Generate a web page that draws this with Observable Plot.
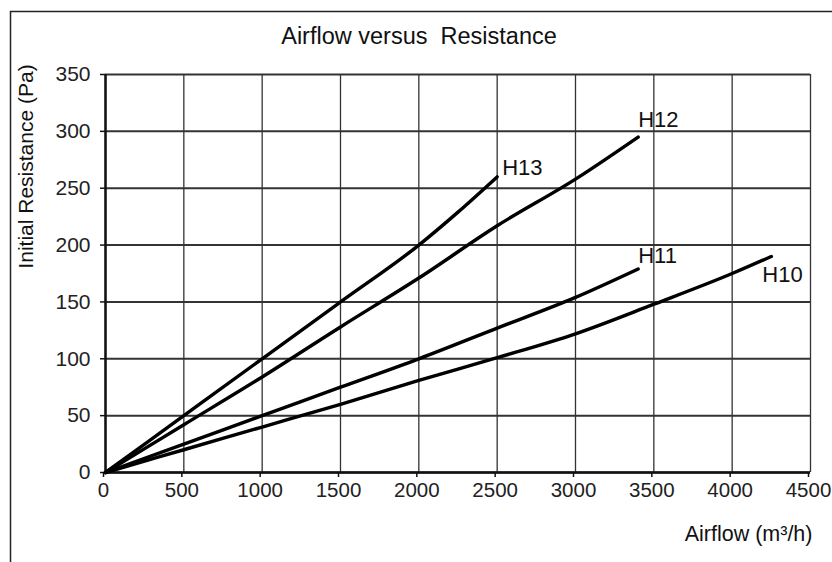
<!DOCTYPE html>
<html>
<head>
<meta charset="utf-8">
<script src="https://cdn.jsdelivr.net/npm/d3@7"></script>
<script src="https://cdn.jsdelivr.net/npm/@observablehq/plot@0.6"></script>
<style>
  html, body { margin: 0; padding: 0; background: #fff; }
  svg { display: block; }
</style>
</head>
<body>
<div id="chart"></div>
<script>
// Data
const xTicks = [0, 500, 1000, 1500, 2000, 2500, 3000, 3500, 4000, 4500];
const yTicks = [0, 50, 100, 150, 200, 250, 300, 350];

const h13Airflow = [0, 500, 1000, 1500, 2000, 2250, 2500];
const h13Resist  = [0, 50, 100, 150, 200, 229, 260];

const h12Airflow = [0, 500, 1000, 1500, 2000, 2500, 3000, 3400];
const h12Resist  = [0, 42, 84, 128, 171, 217, 258, 295];

const h11Airflow = [0, 500, 1000, 1500, 2000, 2500, 3000, 3400];
const h11Resist  = [0, 25, 50, 75, 100, 127, 154, 179];

const h10Airflow = [0, 500, 1000, 1500, 2000, 2500, 3000, 3500, 4000, 4250];
const h10Resist  = [0, 20, 40, 60, 81, 101, 122, 148, 175, 190];

const seriesNames = ["H13", "H12", "H11", "H10"];
const seriesX = [h13Airflow, h12Airflow, h11Airflow, h10Airflow];
const seriesY = [h13Resist, h12Resist, h11Resist, h10Resist];
// label offsets (pixels) relative to each series' end point
const labelDx = [5, 0, 0, -9];
const labelDy = [-9, -17, -13, 19];

const titleText = "Airflow versus  Resistance";
const xLabel = "Airflow (m³/h)";
const yLabel = "Initial Resistance (Pa)";

const rows = [];
seriesNames.forEach((s, i) => {
  seriesX[i].forEach((x, j) => rows.push({series: s, airflow: x, resistance: seriesY[i][j]}));
});
const ends = seriesNames.map((s, i) => ({
  series: s,
  airflow: seriesX[i][seriesX[i].length - 1],
  resistance: seriesY[i][seriesY[i].length - 1],
  dx: labelDx[i], dy: labelDy[i]
}));

const font = "'Liberation Sans', Arial, Helvetica, sans-serif";

const plot = Plot.plot({
  width: 832,
  height: 562,
  marginLeft: 105,
  marginRight: 22,
  marginTop: 74,
  marginBottom: 90,
  style: {fontFamily: font, fontSize: "21px", color: "#222", background: "#fff"},
  x: {domain: [0, 4500], ticks: xTicks, label: null},
  y: {domain: [0, 350], ticks: yTicks, label: null},
  marks: [
    Plot.ruleX(xTicks, {stroke: "#333", strokeWidth: 1.3}),
    Plot.ruleY(yTicks, {stroke: "#333", strokeWidth: 2}),
    Plot.ruleX([0], {stroke: "#111", strokeWidth: 2.5}),
    Plot.ruleY([0], {stroke: "#111", strokeWidth: 2.5}),
    Plot.axisX({ticks: xTicks, tickSize: 5, tickPadding: 5, tickFormat: d => String(d), fontSize: 20.5, dx: -2, stroke: "#111", strokeWidth: 1.5, label: null}),
    Plot.axisY({ticks: yTicks, tickSize: 5, tickPadding: 10, tickFormat: d => String(d), fontSize: 21, stroke: "#111", strokeWidth: 1.5, label: null}),
    ...seriesNames.map(s => Plot.line(rows.filter(r => r.series === s), {
      x: "airflow", y: "resistance", stroke: "#000", strokeWidth: 3.4, curve: "monotone-x"
    })),
    ...ends.map(e => Plot.text([e], {
      x: "airflow", y: "resistance", text: "series", textAnchor: "start",
      dx: e.dx, dy: e.dy, fontSize: 22, fill: "#111"
    })),
    Plot.text([titleText], {frameAnchor: "top", text: d => d, textAnchor: "middle", lineAnchor: "middle", dx: -39, dy: -38, fontSize: 23.5, fill: "#111"}),
    Plot.text([xLabel], {frameAnchor: "bottom-right", text: d => d, textAnchor: "end", lineAnchor: "bottom", dx: 2, dy: 68, fontSize: 21.5, fill: "#111"}),
    Plot.text([yLabel], {frameAnchor: "left", text: d => d, rotate: -90, textAnchor: "middle", lineAnchor: "middle", dx: -79, dy: -107, fontSize: 21, fill: "#111"})
  ]
});

// outer border of the figure (clipped at right and bottom as in the reference)
d3.select(plot).insert("rect", ":first-child")
  .attr("x", 10.5).attr("y", 11.5).attr("width", 900).attr("height", 700)
  .attr("fill", "none").attr("stroke", "#222").attr("stroke-width", 1.5);

document.getElementById("chart").appendChild(plot);
</script>
</body>
</html>
